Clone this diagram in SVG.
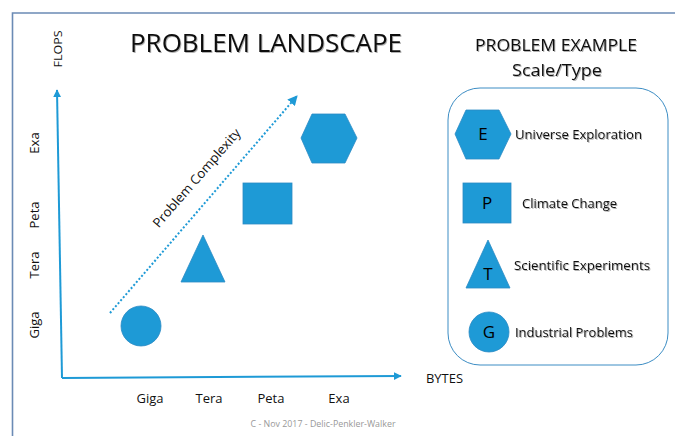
<svg xmlns="http://www.w3.org/2000/svg" width="675" height="436" viewBox="0 0 675 436">
<defs>
<style>
text{font-family:"Open Sans","Liberation Sans",sans-serif;fill:#111;}
.shape{fill:#1e9ad6;stroke:#2b8ac4;stroke-width:0.8;}
.axis{fill:none;stroke:#1e9ad6;stroke-width:2;}
.lbl{font-size:13px;}
.sh{filter:url(#ts);}
.leg{font-size:12.5px;}
.let{font-size:17px;text-anchor:middle;fill:#000;}
</style>
<filter id="ts" x="-5%" y="-20%" width="110%" height="150%">
<feDropShadow dx="1" dy="1" stdDeviation="0.6" flood-color="#000" flood-opacity="0.3"/>
</filter>
<marker id="ah" viewBox="0 0 10 10" refX="9" refY="5" markerWidth="4" markerHeight="4" orient="auto">
<path d="M0,0 L10,5 L0,10 z" fill="#1e9ad6"/>
</marker>
<marker id="ahs" viewBox="0 0 10 10" refX="9" refY="5" markerWidth="5" markerHeight="5" orient="auto">
<path d="M0,0 L10,5 L0,10 z" fill="#1e9ad6"/>
</marker>
</defs>
<rect width="675" height="436" fill="#fff"/>
<path d="M12.5,440 L12.5,13 L680,13" fill="none" stroke="#6b8bb5" stroke-width="1.6"/>

<text class="sh" x="266" y="52" font-size="25" text-anchor="middle" textLength="272" lengthAdjust="spacingAndGlyphs">PROBLEM LANDSCAPE</text>
<text class="sh" x="556" y="51" font-size="17" text-anchor="middle" textLength="162" lengthAdjust="spacingAndGlyphs">PROBLEM EXAMPLE</text>
<text class="sh" x="557" y="76" font-size="17" text-anchor="middle" textLength="90" lengthAdjust="spacingAndGlyphs">Scale/Type</text>

<text transform="translate(62,49) rotate(-90)" font-size="11.5" text-anchor="middle" textLength="37" lengthAdjust="spacingAndGlyphs">FLOPS</text>
<text transform="translate(39,143) rotate(-90)" class="lbl" text-anchor="middle">Exa</text>
<text transform="translate(39,215) rotate(-90)" class="lbl" text-anchor="middle">Peta</text>
<text transform="translate(39,265) rotate(-90)" class="lbl" text-anchor="middle">Tera</text>
<text transform="translate(39,325) rotate(-90)" class="lbl" text-anchor="middle">Giga</text>

<text x="150" y="403" class="lbl" text-anchor="middle">Giga</text>
<text x="209" y="403" class="lbl" text-anchor="middle">Tera</text>
<text x="271" y="403" class="lbl" text-anchor="middle">Peta</text>
<text x="339" y="403" class="lbl" text-anchor="middle">Exa</text>
<text x="426" y="383" font-size="12" textLength="37" lengthAdjust="spacingAndGlyphs">BYTES</text>
<text x="323" y="427" font-size="9" text-anchor="middle" style="fill:#999" textLength="145" lengthAdjust="spacingAndGlyphs">C - Nov 2017 - Delic-Penkler-Walker</text>

<g id="connectors">
<path class="axis" d="M62,378 L57,90" marker-end="url(#ah)"/>
<path class="axis" d="M62,378 L401,376" marker-end="url(#ah)"/>
<path d="M110,313 L297,96" fill="none" stroke="#1e9ad6" stroke-width="2" stroke-dasharray="2,2" marker-end="url(#ahs)"/>
</g>
<text transform="translate(200,181) rotate(-49)" font-size="13" text-anchor="middle" textLength="126" lengthAdjust="spacingAndGlyphs">Problem Complexity</text>

<g id="giga"><circle class="shape" cx="141" cy="326" r="20"/></g>
<g id="tera"><polygon class="shape" points="203,235 225,282 181,282"/></g>
<g id="peta"><rect class="shape" x="243" y="183" width="49" height="41"/></g>
<g id="exa"><polygon class="shape" points="301,138 312,114 345,114 357,138 345,163 312,163"/></g>

<g id="legend">
<rect x="448" y="88" width="220" height="277" rx="32" ry="32" fill="none" stroke="#3c8dc4" stroke-width="1"/>
</g>
<g id="leg-e">
<polygon class="shape" points="455,134 466,110 499,110 511,134 499,159 466,159"/>
<text class="let" x="483" y="140">E</text>
<text class="leg sh" x="515" y="139" textLength="127" lengthAdjust="spacingAndGlyphs">Universe Exploration</text>
</g>
<g id="leg-p">
<rect class="shape" x="463" y="183" width="48" height="40"/>
<text class="let" x="487" y="209">P</text>
<text class="leg sh" x="522" y="208" textLength="95" lengthAdjust="spacingAndGlyphs">Climate Change</text>
</g>
<g id="leg-t">
<polygon class="shape" points="488,240 510,288 466,288"/>
<text class="let" x="488" y="280">T</text>
<text class="leg sh" x="514" y="270" textLength="136" lengthAdjust="spacingAndGlyphs">Scientific Experiments</text>
</g>
<g id="leg-g">
<circle class="shape" cx="489" cy="332" r="20"/>
<text class="let" x="489" y="338">G</text>
<text class="leg sh" x="515" y="337" textLength="118" lengthAdjust="spacingAndGlyphs">Industrial Problems</text>
</g>
</svg>
